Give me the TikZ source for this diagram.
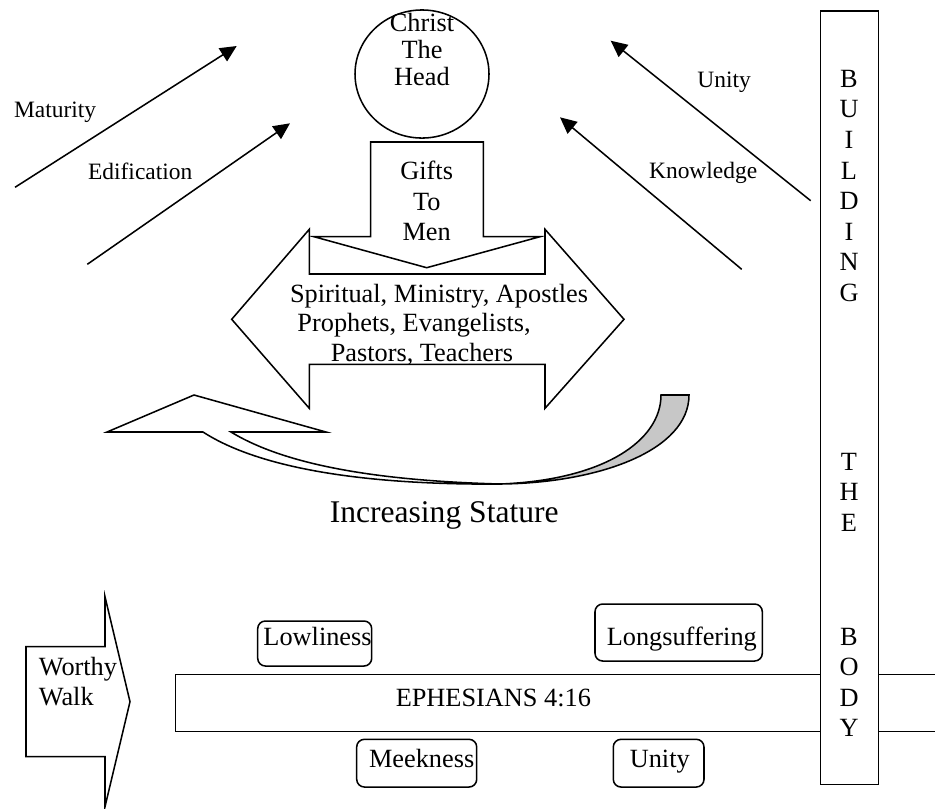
\documentclass[tikz,border=0pt]{standalone}
\usepackage{fontspec}
\setmainfont{Liberation Serif}
\usetikzlibrary{arrows.meta,shapes.geometric}
\begin{document}
\begin{tikzpicture}[x=0.456pt,y=-0.456pt,line width=0.7pt,line join=miter,
  txt/.style={inner sep=0pt,font=\fontsize{12}{13.8}\selectfont},
  lbl/.style={inner sep=0pt,font=\fontsize{10.7}{12.3}\selectfont},
  big/.style={inner sep=0pt,font=\fontsize{14.4}{16.5}\selectfont},
  blockshape/.style={draw,fill=white},
  rbox/.style={draw,fill=white,rounded corners=3.5pt},
  arr/.style={-{Triangle[length=7.5pt,width=7pt]}}]
\useasboundingbox (0,0) rectangle (935,808);

% diagonal arrows
\coordinate (mat1) at (15,187.3);   \coordinate (mat2) at (236.7,46);
\coordinate (edi1) at (87.3,264.3); \coordinate (edi2) at (290,123.3);
\coordinate (uni1) at (810.7,200.7); \coordinate (uni2) at (610.7,40.7);
\coordinate (kno1) at (741.7,269.3); \coordinate (kno2) at (560,117.3);
\draw[arr] (mat1) -- (mat2);
\draw[arr] (edi1) -- (edi2);
\draw[arr] (uni1) -- (uni2);
\draw[arr] (kno1) -- (kno2);
\node[lbl,anchor=base west] (maturity) at (13.3,117.3) {Maturity};
\node[lbl,anchor=base west] (edification) at (87.3,179.3) {Edification};
\node[lbl,anchor=base west] (unitylbl) at (696.7,87.3) {Unity};
\node[lbl,anchor=base west] (knowledge) at (648.3,178.3) {Knowledge};

% Christ the head
\node[draw,ellipse,inner sep=0pt,minimum width=61.1pt,minimum height=58.4pt] (head) at (422,74) {};
\node[txt,anchor=base] (christ) at (422,31) {Christ};
\node[txt,anchor=base] (the1) at (422,58) {The};
\node[txt,anchor=base] (headtxt) at (422,85) {Head};

% double arrow
\draw[blockshape] (231.7,319.3) -- (309.3,229.3) -- (309.3,274) -- (545,274) -- (545,229.3)
  -- (624,319.3) -- (545,408.3) -- (545,364.3) -- (309.3,364.3) -- (309.3,408.3) -- cycle;
% down arrow
\draw[blockshape] (370.7,142) -- (483.3,142) -- (483.3,236.7) -- (540,236.7) -- (426.7,267.7)
  -- (314,236.7) -- (370.7,236.7) -- cycle;
\node[txt,anchor=base] (gifts) at (426.7,179) {Gifts};
\node[txt,anchor=base] (to) at (426.7,210) {To};
\node[txt,anchor=base] (men) at (426.7,240) {Men};
\node[txt,anchor=base west] (gl1) at (289.3,302.3) {Spiritual, Ministry, Apostles};
\node[txt,anchor=base west] (gl2) at (296.7,331.7) {Prophets, Evangelists,};
\node[txt,anchor=base west] (gl3) at (330,361.7) {Pastors, Teachers};

% curved arrow
\draw[fill=black!22] (500,484) .. controls (600,483) and (689,450) .. (689,395) -- (661,395)
  .. controls (661,440) and (605,480) .. (500,484) -- cycle;
\draw[fill=white] (203,432) .. controls (265,472) and (380,485) .. (500,484)
  .. controls (390,481) and (290,468) .. (231,432) -- (326,432) -- (194,395) -- (107,432) -- cycle;
\node[big,anchor=base west] (stature) at (329,522) {Increasing Stature};

% Ephesians bar
\draw (935,674.3) -- (175.7,674.3) -- (175.7,731.7) -- (935,731.7);
\node[txt,anchor=base west] (eph) at (395,706) {EPHESIANS 4:16};

% column
\draw[fill=white] (820.7,11) rectangle (878.3,784.3);
\foreach \l [count=\i] in {B,U,I,L,D,I,N,G}
  \node[txt,anchor=base] (bld\i) at (849,{87.3+30.6*(\i-1)}) {\l};
\foreach \l [count=\i] in {T,H,E}
  \node[txt,anchor=base] (the\i) at (849,{470+30.6*(\i-1)}) {\l};
\foreach \l [count=\i] in {B,O,D,Y}
  \node[txt,anchor=base] (body\i) at (849,{645+30.5*(\i-1)}) {\l};

% virtue boxes
\draw[rbox] (257.7,621) rectangle (371.7,666);
\node[txt,anchor=base west] (lowliness) at (262.7,645) {Lowliness};
\draw[rbox] (595,604) rectangle (762.3,661);
\node[txt,anchor=base west] (longsuffering) at (606,645) {Longsuffering};
\draw[rbox] (356.7,739.3) rectangle (476.7,787);
\node[txt,anchor=base west] (meekness) at (368.3,767.7) {Meekness};
\draw[rbox] (613.3,739.3) rectangle (704,787);
\node[txt,anchor=base west] (unitybox) at (629,767.7) {Unity};

% worthy walk arrow
\draw[blockshape] (26,646.7) -- (105,646.7) -- (105,596.7) -- (130,701.7) -- (105,806.7)
  -- (105,756.7) -- (26,756.7) -- cycle;
\node[txt,anchor=base west] (worthy) at (38,675) {Worthy};
\node[txt,anchor=base west] (walk) at (38,705) {Walk};
\end{tikzpicture}
\end{document}
